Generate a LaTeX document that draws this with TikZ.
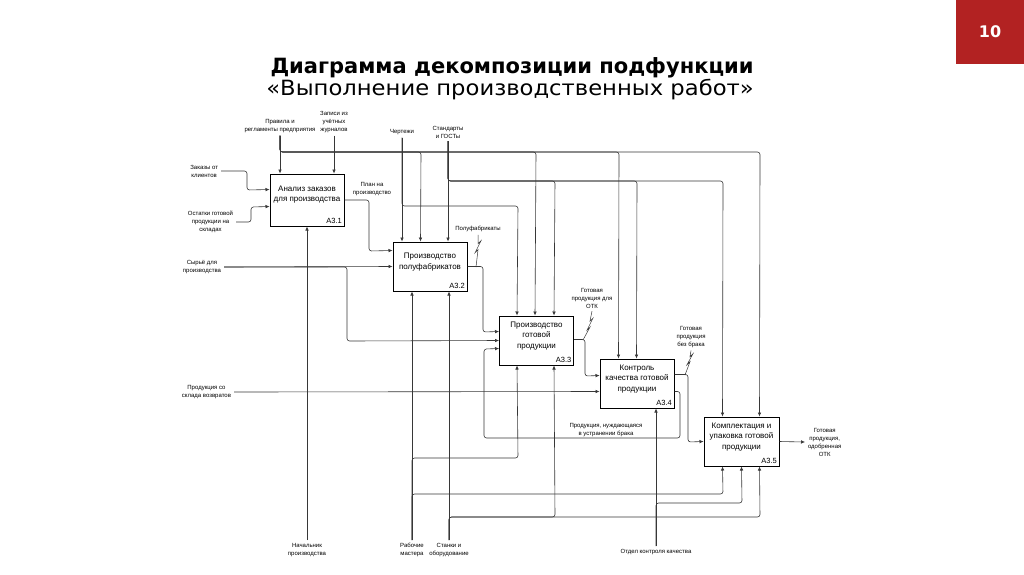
\documentclass[tikz,border=0pt]{standalone}
\usepackage{fontspec}
\setmainfont{Liberation Sans}
\newfontfamily\titlefont{DejaVu Sans}
\usetikzlibrary{arrows.meta,calc}
\definecolor{badgered}{RGB}{178,34,34}
\definecolor{linecol}{RGB}{55,55,55}
\begin{document}
\begin{tikzpicture}[x=1pt,y=-1pt,
  box/.style={draw=black,line width=1pt,minimum width=74pt,minimum height=49pt,inner sep=0pt},
  btext/.style={font=\fontsize{8}{10.5}\selectfont,align=center,inner sep=0pt},
  idx/.style={font=\fontsize{7.5}{8}\selectfont,anchor=south east,inner sep=2.5pt},
  lbl/.style={font=\fontsize{6}{8}\selectfont,align=center,inner sep=0pt,outer sep=3pt},
  conn/.style={draw=linecol,line width=0.6pt,rounded corners=2.5pt},
  arr/.style={conn,-{Latex[length=4pt,width=3.6pt]}},
  squig/.style={draw=linecol,line width=0.5pt},
]
\useasboundingbox (0,0) rectangle (1024,574);
\fill[white] (0,0) rectangle (1024,574);

% title and badge
\node[font=\titlefont\bfseries\fontsize{21}{24}\selectfont,anchor=base] (title1) at (512,73) {Диаграмма декомпозиции подфункции};
\node[font=\titlefont\fontsize{21}{24}\selectfont,anchor=base,xscale=1.08] (title2) at (510,95) {«Выполнение производственных работ»};
\fill[badgered] (956,0) rectangle (1024,64);
\node[text=white,font=\titlefont\bfseries\fontsize{16}{16}\selectfont] (badge) at (990,32) {10};

% boxes
\node[box,minimum height=52pt] (a1) at (307,200) {};
\node[box] (a2) at (430,266.5) {};
\node[box] (a3) at (536.5,340.5) {};
\node[box] (a4) at (637,383.5) {};
\node[box,minimum width=75pt] (a5) at (741.5,441.5) {};

\node[btext] (t1) at (307,194.5) {Анализ заказов\\для производства};
\node[btext] (t2) at (430,262) {Производство\\полуфабрикатов};
\node[btext] (t3) at (536.5,336) {Производство\\готовой\\продукции};
\node[btext] (t4) at (637,379) {Контроль\\качества готовой\\продукции};
\node[btext] (t5) at (741.5,437) {Комплектация и\\упаковка готовой\\продукции};

\node[idx] (i1) at (a1.south east) {А3.1};
\node[idx] (i2) at (a2.south east) {А3.2};
\node[idx] (i3) at (a3.south east) {А3.3};
\node[idx] (i4) at (a4.south east) {А3.4};
\node[idx] (i5) at (a5.south east) {А3.5};

% labels
\node[lbl] (lp) at (280,126) {Правила и\\регламенты предприятия};
\node[lbl] (lz) at (334,122) {Записи из\\учётных\\журналов};
\node[lbl] (lch) at (402,132) {Чертежи};
\node[lbl] (ls) at (448,132) {Стандарты\\и ГОСТы};
\node[lbl,anchor=east] (lzk) at (221,171) {Заказы от\\клиентов};
\node[lbl,anchor=east] (lo) at (236,222) {Остатки готовой\\продукции на\\складах};
\node[lbl,anchor=east] (lsy) at (224,267) {Сырьё для\\производства};
\node[lbl,anchor=east] (lv) at (234,392) {Продукция со\\склада возвратов};
\node[lbl] (lpl) at (372,189) {План на\\производство};
\node[lbl] (lpf) at (478,229) {Полуфабрикаты};
\node[lbl] (lgo) at (592,298) {Готовая\\продукция для\\ОТК};
\node[lbl] (lgb) at (691,337) {Готовая\\продукция\\без брака};
\node[lbl] (lbr) at (606,430) {Продукция, нуждающаяся\\в устранении брака};
\node[lbl,anchor=west] (lout) at (805,442) {Готовая\\продукция,\\одобренная\\ОТК};
\node[lbl,anchor=north] (ln) at (307,540) {Начальник\\производства};
\node[lbl,anchor=north] (lr) at (412,540) {Рабочие\\мастера};
\node[lbl,anchor=north] (lst) at (449,540) {Станки и\\оборудование};
\node[lbl,anchor=north] (lot) at (656,546) {Отдел контроля качества};

% controls
\draw[arr] (lp.south) -- (lp.south |- a1.north);
\draw[arr] (lp.south) |- (421,152) -- ($(a2.north west)+(28,0)$);
\draw[arr] (lp.south) |- (536,152) -- ($(a3.north west)+(36,0)$);
\draw[arr] (lp.south) |- (619,152) -- ($(a4.north west)+(19,0)$);
\draw[arr] (lp.south) |- (760,152) -- ($(a5.north west)+(56,0)$);
\draw[arr] (lz.south) -- (lz.south |- a1.north);
\draw[arr] (lch.south) -- (lch.south |- a2.north);
\draw[arr] (lch.south) |- (518,206) -- ($(a3.north west)+(18,0)$);
\draw[arr] (ls.south) -- (ls.south |- a2.north);
\draw[arr] (ls.south) |- (555,181) -- ($(a3.north west)+(55,0)$);
\draw[arr] (ls.south) |- (637,181) -- ($(a4.north west)+(37,0)$);
\draw[arr] (ls.south) |- (723,181) -- ($(a5.north west)+(19,0)$);

% inputs
\draw[arr] (lzk.east) -| (247,190) -- ($(a1.north west)+(0,16)$);
\draw[arr] (lo.east) -| (251,207) -- ($(a1.north west)+(0,33)$);
\draw[arr] (lsy.east) -- ($(a2.north west)+(0,25)$);
\draw[arr] (lsy.east) -| (347,341) -- ($(a3.north west)+(0,25)$);
\draw[arr] (lv.east) -- ($(a4.north west)+(0,33)$);

% outputs
\draw[arr] (a1.east) -| (369,251) -- ($(a2.north west)+(0,9)$);
\draw[arr] ($(a2.north east)+(0,25)$) -| (483,332) -- ($(a3.north west)+(0,16)$);
\draw[arr] ($(a3.north east)+(0,24)$) -| (585,376) -- ($(a4.north west)+(0,17)$);
\draw[arr] ($(a4.north east)+(0,16)$) -| (688,442) -- ($(a5.north west)+(0,25)$);
\draw[arr] ($(a4.north east)+(0,33)$) -| (680,438) -| (484,349) -- ($(a3.north west)+(0,33)$);
\draw[arr] ($(a5.north east)+(0,25)$) -- (lout.west);

% mechanisms
\draw[arr] (ln.north) -- (ln.north |- a1.south);
\draw[arr] (lr.north) -- (lr.north |- a2.south);
\draw[arr] (lr.north) |- (518,458) -- ($(a3.south west)+(18,0)$);
\draw[arr] (lr.north) |- (723,494) -- ($(a5.south west)+(19,0)$);
\draw[arr] (lst.north) -- (lst.north |- a2.south);
\draw[arr] (lst.north) |- (555,517) -- ($(a3.south west)+(55,0)$);
\draw[arr] (lst.north) |- (760,517) -- ($(a5.south west)+(56,0)$);
\draw[arr] (lot.north) -- (lot.north |- a4.south);
\draw[arr] (lot.north) |- (742,503) -- ($(a5.south west)+(38,0)$);

% squiggles
\draw[squig] (lpf.south) -- ++(0,9) -- ++(3,-3) -- ++(-6,12) -- ++(3,-3) -- (476,267);
\draw[squig] (lgo.south) -- ++(-2,10) -- ++(3,-3) -- ++(-6,12) -- ++(3,-3) -- (583,340);
\draw[squig] (lgb.south) -- ++(-1,6) -- ++(3,-3) -- ++(-6,11) -- ++(3,-3) -- (685,375);
\end{tikzpicture}
\end{document}
